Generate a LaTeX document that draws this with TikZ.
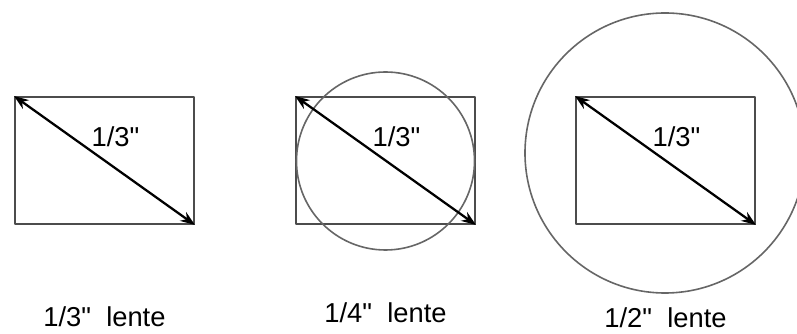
\documentclass[tikz,border=0pt]{standalone}
\usepackage{fontspec}
\newfontfamily\labelfont{Liberation Sans}
\usetikzlibrary{arrows.meta}

\begin{document}
\begin{tikzpicture}[x=0.75pt,y=-0.75pt,>={Stealth[length=11pt,width=8pt]},line cap=round,line join=round,
  sensor/.style={draw=black!70,line width=1.5pt,minimum width=134.25pt,minimum height=95.25pt,inner sep=0pt},
  lens/.style={circle,draw=black!60,line width=1.2pt,inner sep=0pt},
  diag/.style={<->,line width=1.7pt,black},
  size/.style={font=\labelfont\fontsize{20.5}{24}\selectfont,inner sep=0pt},
  caption/.style={font=\labelfont\fontsize{20.5}{24}\selectfont,inner sep=0pt}]
\useasboundingbox (0,0) rectangle (797,334);
% sensor frames
\node[sensor] (r1) at (104.5,160.5) {};
\node[sensor] (r2) at (385.5,160.5) {};
\node[sensor] (r3) at (665.5,160.5) {};
% lens circles
\node[lens,minimum size=133.5pt] (c2) at (385.5,161) {};
\node[lens,minimum size=210pt] (c3) at (665,153) {};
% diagonals
\draw[diag] (r1.north west) -- (r1.south east);
\draw[diag] (r2.north west) -- (r2.south east);
\draw[diag] (r3.north west) -- (r3.south east);
\node[size] (d1) at (115.5,137) {1/3"};
\node[size] (d2) at (396.5,137) {1/3"};
\node[size] (d3) at (676.5,137) {1/3"};
% captions
\node[caption] (l1) at (104.5,317) {1/3"\ \ lente};
\node[caption] (l2) at (385.5,313) {1/4"\ \ lente};
\node[caption] (l3) at (665.5,318) {1/2"\ \ lente};
\end{tikzpicture}
\end{document}
